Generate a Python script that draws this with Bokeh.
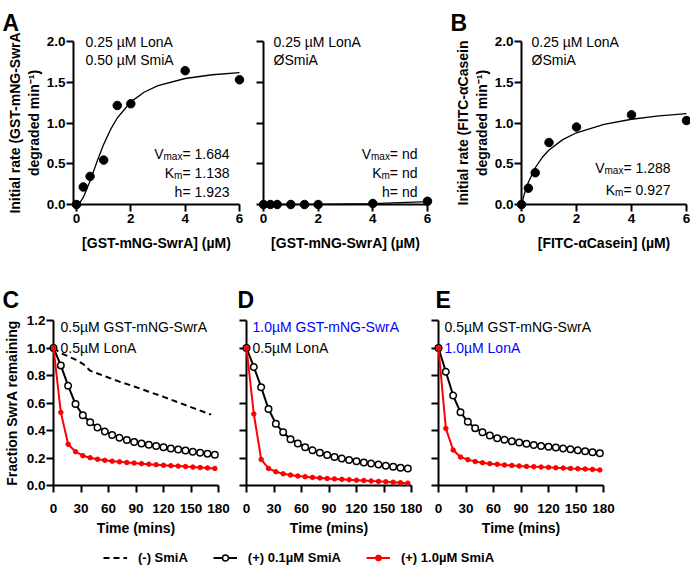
from bokeh.plotting import figure
from bokeh.models import FixedTicker, PrintfTickFormatter, Legend, Range1d
from bokeh.core.properties import value
from bokeh.layouts import row, column
from bokeh.embed import file_html
from bokeh.resources import INLINE

FONT = "Liberation Sans"
BLUE = "#0000ff"
RED = "#ff0000"
BLACK = "#000000"

# ---------------- data ----------------
# Panel A (left): GST-mNG-SwrA with 0.50 uM SmiA
conc_swra = [0, 0.25, 0.5, 1, 1.5, 2, 4, 6]
rate_smia = [0, 0.215, 0.345, 0.545, 1.215, 1.236, 1.642, 1.53]
fit_smia_x = [0, 0.125, 0.25, 0.5, 0.75, 1, 1.25, 1.5, 2, 2.5, 3, 4, 5, 6]
fit_smia_y = [0, 0.024, 0.087, 0.287, 0.521, 0.738, 0.918, 1.061, 1.259, 1.380, 1.458, 1.546, 1.592, 1.618]
# Panel A (right): no SmiA
rate_nosmia = [0, 0, 0, 0, 0, 0, 0.012, 0.04]
fit_nosmia_x = [0, 2, 4, 6]
fit_nosmia_y = [0, 0.002, 0.011, 0.035]
# Panel B: FITC-alphaCasein
conc_casein = [0, 0.25, 0.5, 1, 2, 4, 6]
rate_casein = [0, 0.20, 0.39, 0.76, 0.95, 1.10, 1.03]
fit_casein_x = [0, 0.1, 0.25, 0.5, 0.75, 1, 1.5, 2, 3, 4, 5, 6]
fit_casein_y = [0, 0.125, 0.274, 0.451, 0.576, 0.668, 0.796, 0.880, 0.984, 1.046, 1.087, 1.116]

# Panels C-E: time courses
time_pts = [0, 8, 16, 24, 32, 40, 48, 56, 64, 72, 80, 88, 96, 104, 112, 120, 128, 136, 144, 152, 160, 168, 176]
time_neg = [0, 8, 16, 24, 32, 40, 56, 72, 88, 104, 120, 136, 152, 172]
c_neg = [1.0, 0.962, 0.94, 0.915, 0.885, 0.835, 0.795, 0.755, 0.72, 0.682, 0.645, 0.605, 0.565, 0.515]
c_low = [1.0, 0.873, 0.725, 0.592, 0.511, 0.460, 0.422, 0.393, 0.368, 0.347, 0.331, 0.317, 0.306, 0.296,
         0.287, 0.278, 0.269, 0.261, 0.254, 0.246, 0.239, 0.231, 0.224]
c_high = [1.0, 0.532, 0.300, 0.246, 0.217, 0.202, 0.191, 0.183, 0.177, 0.172, 0.167, 0.163, 0.159, 0.155,
          0.151, 0.147, 0.144, 0.141, 0.138, 0.134, 0.131, 0.128, 0.124]
d_low = [1.0, 0.862, 0.715, 0.556, 0.450, 0.387, 0.337, 0.306, 0.278, 0.256, 0.238, 0.222, 0.208, 0.196,
         0.186, 0.177, 0.168, 0.160, 0.152, 0.144, 0.137, 0.130, 0.124]
d_high = [1.0, 0.52, 0.19, 0.124, 0.100, 0.085, 0.076, 0.069, 0.064, 0.059, 0.055, 0.051, 0.048, 0.045,
          0.042, 0.039, 0.036, 0.033, 0.030, 0.027, 0.024, 0.020, 0.017]
e_low = [1.0, 0.827, 0.654, 0.532, 0.463, 0.417, 0.388, 0.363, 0.344, 0.333, 0.322, 0.312, 0.304, 0.295,
         0.288, 0.281, 0.276, 0.269, 0.263, 0.256, 0.249, 0.241, 0.234]
e_high = [1.0, 0.415, 0.258, 0.207, 0.188, 0.174, 0.166, 0.159, 0.154, 0.149, 0.146, 0.142, 0.139, 0.137,
          0.134, 0.132, 0.129, 0.127, 0.124, 0.122, 0.120, 0.117, 0.113]

kin_xticks = [0, 2, 4, 6]
kin_yticks = [0, 0.5, 1.0, 1.5, 2.0]
time_xticks = [0, 30, 60, 90, 120, 150, 180]
frac_yticks = [0, 0.2, 0.4, 0.6, 0.8, 1.0, 1.2]

legend_labels = ["(-) SmiA", "(+) 0.1µM SmiA", "(+) 1.0µM SmiA"]


# ---------------- helpers ----------------
def panel(g, xr, yr, xticks, yticks, xlabel, ylabel, show_ylabels,
          xl_stand, xa_stand, yl_stand, ya_stand):
    p = figure(width=g["w"], height=g["h"], x_range=Range1d(*xr), y_range=Range1d(*yr),
               output_backend="svg", toolbar_location=None,
               min_border_left=g["bl"], min_border_right=g["br"],
               min_border_top=g["bt"], min_border_bottom=g["bb"])
    p.grid.visible = False
    p.outline_line_color = None
    for ax in (p.xaxis[0], p.yaxis[0]):
        ax.axis_line_width = 2
        ax.axis_line_color = BLACK
        ax.major_tick_line_width = 2
        ax.major_tick_line_color = BLACK
        ax.major_tick_out = 7
        ax.major_tick_in = 0
        ax.minor_tick_line_color = None
        ax.major_label_text_font = FONT
        ax.major_label_text_font_style = "bold"
        ax.major_label_text_font_size = "13.5px"
        ax.major_label_text_color = BLACK
        ax.axis_label_text_font = FONT
        ax.axis_label_text_font_style = "bold"
        ax.axis_label_text_font_size = "14px"
        ax.axis_label_text_color = BLACK
    p.xaxis.ticker = FixedTicker(ticks=xticks)
    p.yaxis.ticker = FixedTicker(ticks=yticks)
    p.yaxis.formatter = PrintfTickFormatter(format="%.1f")
    p.xaxis.axis_label = xlabel
    p.xaxis.major_label_standoff = xl_stand
    p.xaxis.axis_label_standoff = xa_stand
    p.yaxis.major_label_standoff = yl_stand
    p.yaxis.axis_label_standoff = ya_stand
    if ylabel:
        p.yaxis.axis_label = ylabel
    if not show_ylabels:
        p.yaxis.major_label_text_font_size = "0px"
        p.yaxis.major_label_text_color = None
    p._g = g
    p._xr = xr
    p._yr = yr
    return p


def put(p, px, py, text, size="14px", bold=False, color=BLACK, align="left"):
    """Text placed at page pixel (px, py) relative to the frame's bottom-left corner."""
    g = p._g
    p.text(x=[p._xr[0]], y=[p._yr[0]], text=[text],
           x_offset=px - g["L"], y_offset=py - g["B"],
           text_font=value(FONT), text_font_size=value(size),
           text_font_style="bold" if bold else "normal",
           text_color=color, text_align=align, text_baseline="alphabetic",
           level="overlay")


def param(p, R, base, sym, sub, rest, rest_w, sub_w):
    put(p, R, base, rest, align="right")
    put(p, R - rest_w, base + 3, sub, size="10px", align="right")
    put(p, R - rest_w - sub_w, base, sym, align="right")


# geometry: figure size, borders, and page position of frame left / bottom
gA1 = dict(w=250, h=253, bl=73, br=11, bt=41, bb=48, L=73, B=205)
gA2 = dict(w=190, h=253, bl=13, br=13, bt=41, bb=48, L=263, B=205)
gB = dict(w=250, h=253, bl=81, br=4, bt=41, bb=48, L=521, B=205)
gC = dict(w=230, h=293, bl=53, br=12, bt=67, bb=61, L=53, B=485)
gD = dict(w=192, h=293, bl=16, br=11, bt=67, bb=61, L=246, B=485)
gE = dict(w=268, h=293, bl=16, br=87, bt=67, bb=61, L=438, B=485)

swra_lab = "[GST-mNG-SwrA] (µM)"

# ---- Panel A left ----
pA1 = panel(gA1, (-0.11, 6), (0, 2.0), kin_xticks, kin_yticks, swra_lab,
            "Initial rate (GST-mNG-SwrA\ndegraded min⁻¹)", True, 2, 9, 1, 2)
pA1.line(fit_smia_x, fit_smia_y, line_color=BLACK, line_width=1.3, level="overlay")
pA1.scatter(conc_swra, rate_smia, size=8.5, fill_color=BLACK, line_color=BLACK, level="overlay")
put(pA1, 2, 23, "A", size="23px", bold=True)
put(pA1, 85, 42, "0.25 µM LonA")
put(pA1, 85, 60, "0.50 µM SmiA")
param(pA1, 229, 154, "V", "max", "= 1.684", 47.1, 18.9)
param(pA1, 229, 173, "K", "m", "= 1.138", 47.1, 8.3)
put(pA1, 229, 192, "h= 1.923", align="right")

# ---- Panel A right ----
pA2 = panel(gA2, (0, 6), (0, 2.0), kin_xticks, kin_yticks, swra_lab, None, False, 2, 9, 1, 2)
pA2.line(fit_nosmia_x, fit_nosmia_y, line_color=BLACK, line_width=1.3, level="overlay")
pA2.scatter(conc_swra, rate_nosmia, size=8.5, fill_color=BLACK, line_color=BLACK, level="overlay")
put(pA2, 273, 42, "0.25 µM LonA")
put(pA2, 273, 60, "ØSmiA")
param(pA2, 417, 154, "V", "max", "= nd", 27.6, 18.9)
param(pA2, 417, 173, "K", "m", "= nd", 27.6, 8.3)
put(pA2, 417, 192, "h= nd", align="right")

# ---- Panel B ----
pB = panel(gB, (0, 6), (0, 2.0), kin_xticks, kin_yticks, "[FITC-αCasein] (µM)",
           "Initial rate (FITC-αCasein\ndegraded min⁻¹)", True, 2, 9, 1, 2)
pB.line(fit_casein_x, fit_casein_y, line_color=BLACK, line_width=1.3, level="overlay")
pB.scatter(conc_casein, rate_casein, size=8.5, fill_color=BLACK, line_color=BLACK, level="overlay")
put(pB, 450, 23, "B", size="23px", bold=True)
put(pB, 531, 42, "0.25 µM LonA")
put(pB, 531, 60, "ØSmiA")
param(pB, 670, 168, "V", "max", "= 1.288", 47.1, 18.9)
param(pB, 670, 190, "K", "m", "= 0.927", 47.1, 8.3)


# ---- time course panels ----
def time_panel(g, low, high, neg, show_y, letter, lx, tx, l1, c1, l2, c2):
    p = panel(g, (0, 180), (0, 1.2), time_xticks, frac_yticks, "Time (mins)",
              "Fraction SwrA remaining" if show_y else None, show_y, 11, 4, 1, 4)
    if neg is not None:
        p.line(time_neg, neg, line_color=BLACK, line_width=2, line_dash="6 4", level="overlay")
    p.line(time_pts, low, line_color=BLACK, line_width=2, level="overlay")
    p.scatter(time_pts, low, size=6.5, fill_color="white", line_color=BLACK, line_width=1.5,
              level="overlay")
    p.line(time_pts, high, line_color=RED, line_width=2, level="overlay")
    p.scatter(time_pts, high, size=4.5, fill_color=RED, line_color=RED, level="overlay")
    put(p, lx, 299, letter, size="23px", bold=True)
    put(p, tx, 326, l1, color=c1)
    put(p, tx, 347, l2, color=c2)
    return p


pC = time_panel(gC, c_low, c_high, c_neg, True, "C", 2, 60,
                "0.5µM GST-mNG-SwrA", BLACK, "0.5µM LonA", BLACK)
pD = time_panel(gD, d_low, d_high, None, False, "D", 237, 252,
                "1.0µM GST-mNG-SwrA", BLUE, "0.5µM LonA", BLACK)
pE = time_panel(gE, e_low, e_high, None, False, "E", 435, 444,
                "0.5µM GST-mNG-SwrA", BLACK, "1.0µM LonA", BLUE)

# ---- legend row ----
pL = figure(width=690, height=22, x_range=Range1d(0, 1), y_range=Range1d(0, 1),
            output_backend="svg", toolbar_location=None, x_axis_type=None, y_axis_type=None,
            min_border_left=0, min_border_right=0, min_border_top=0, min_border_bottom=0)
pL.grid.visible = False
pL.outline_line_color = None
# legend-only renderers: their data lie outside this strip's ranges, so only the key shows
off_x = [5, 6]
off_y = [5, 6]
r1 = pL.line(off_x, off_y, line_color=BLACK, line_width=2, line_dash="6 4")
r2a = pL.line(off_x, off_y, line_color=BLACK, line_width=2)
r2b = pL.scatter(off_x, off_y, size=6.5, fill_color="white", line_color=BLACK, line_width=1.5)
r3a = pL.line(off_x, off_y, line_color=RED, line_width=2)
r3b = pL.scatter(off_x, off_y, size=4.5, fill_color=RED, line_color=RED)
leg = Legend(items=[(legend_labels[0], [r1]), (legend_labels[1], [r2a, r2b]),
                    (legend_labels[2], [r3a, r3b])],
             orientation="horizontal", location=(103, 3), glyph_width=24, glyph_height=15,
             label_height=16, label_standoff=11, spacing=25, padding=0, margin=0,
             border_line_color=None, background_fill_alpha=0,
             label_text_font=FONT, label_text_font_style="bold", label_text_font_size="13px",
             label_text_color=BLACK, label_text_baseline="middle")
pL.add_layout(leg)

layout = column(row(pA1, pA2, pB), row(pC, pD, pE), pL)

open("out.html", "w").write(file_html(layout, INLINE))
